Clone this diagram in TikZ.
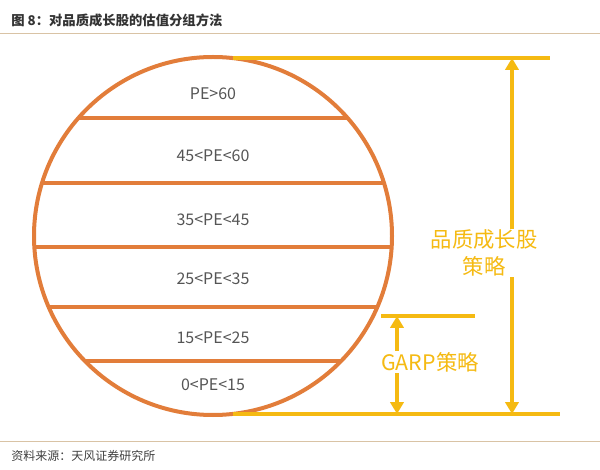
\documentclass[tikz,border=0pt]{standalone}
\usepackage{fontspec}
\setmainfont{Noto Sans CJK SC}
\usepackage{tikz}
\usetikzlibrary{arrows.meta}
\definecolor{ringorange}{HTML}{E27D3A}
\definecolor{goldline}{HTML}{F5BA12}
\definecolor{rulebrown}{HTML}{D9C3A5}
\definecolor{labelgray}{HTML}{555555}
\tikzset{
  band/.style={draw=ringorange,line width=3pt},
  gold/.style={draw=goldline,line width=3pt},
  goldarrow/.style={draw=goldline,line width=3pt,-{Triangle[length=9pt,width=10pt]}},
  pelabel/.style={text=labelgray,font=\fontsize{12}{14}\selectfont},
  stratlabel/.style={text=goldline,fill=white,inner sep=1pt,font=\fontsize{16}{20}\selectfont,align=center}
}
\begin{document}
\begin{tikzpicture}[x=0.75pt,y=0.75pt,yscale=-1,xscale=1]
\useasboundingbox (0,0) rectangle (600,470);
% Title and rules
\node (title) [anchor=west,inner sep=0pt,font=\fontsize{10}{12}\selectfont\bfseries,text=black!80] at (11,20) {图 8：对品质成长股的估值分组方法};
\draw [rulebrown,line width=0.6pt] (0,33) -- (600,33);
\draw [rulebrown,line width=0.6pt] (0,441) -- (600,441);
\node (source) [anchor=west,inner sep=0pt,font=\fontsize{9}{11}\selectfont,text=black!75] at (11,456) {资料来源：天风证券研究所};
% Circle with chords
\begin{scope}
  \clip (213,236) circle (179);
  \foreach \yy in {118,183,247,307,361}
    \draw [band] (20,\yy) -- (400,\yy);
\end{scope}
\draw [band] (213,236) circle (179);
% PE labels
\node (pe1) [pelabel] at (213,94) {PE>60};
\node (pe2) [pelabel] at (213,156) {45<PE<60};
\node (pe3) [pelabel] at (213,220) {35<PE<45};
\node (pe4) [pelabel] at (213,279) {25<PE<35};
\node (pe5) [pelabel] at (213,338) {15<PE<25};
\node (pe6) [pelabel] at (213,385) {0<PE<15};
% Gold bracket lines
\draw [gold] (233,58) -- (550,58);
\draw [gold] (233,414) -- (560,414);
\draw [gold] (381,316) -- (475,316);
\coordinate (qtop) at (512,58);
\coordinate (qbot) at (512,414);
\coordinate (gtop) at (397,316);
\coordinate (gbot) at (397,414);
\draw [goldarrow] (512,236) -- (qtop);
\draw [goldarrow] (512,236) -- (qbot);
\node (quality) [stratlabel] at (484,253) {品质成长股\\策略};
\node (garp) [stratlabel] at (430,362) {GARP策略};
\draw [goldarrow] (garp.north -| gtop) -- (gtop);
\draw [goldarrow] (garp.south -| gbot) -- (gbot);
\end{tikzpicture}
\end{document}
